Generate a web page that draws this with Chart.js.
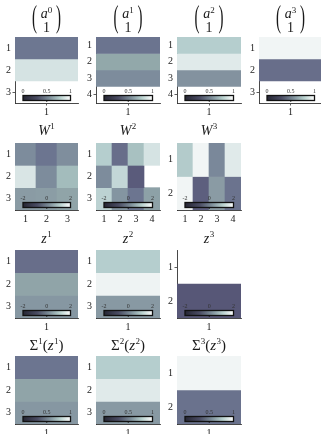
<!DOCTYPE html>
<html><head><meta charset="utf-8">
<script src="https://cdn.jsdelivr.net/npm/chart.js@4.4.1/dist/chart.umd.min.js"></script>
<style>
html,body{margin:0;padding:0;background:#fff;overflow:hidden;width:321px;height:434px;position:relative}
.p{position:absolute}
</style></head><body>
<script>
// ---- data ----
const a0 = [0.37, 0.88, 1];
const a1 = [0.35, 0.62, 0.48, 1];
const a2 = [0.79, 0.91, 0.51, 1];
const a3 = [0.96, 0.30, 1];
const W1 = [[-0.08, -0.56, -0.04], [1.56, -0.08, 0.88], [0.20, 0.24, 0.40]];
const W2 = [[1.16, -0.80, 0.96, 1.52], [-0.08, 1.32, -1.52, 2.30], [1.24, 0.08, -0.56, 0.32]];
const W3 = [[1.12, 1.84, -0.16, 1.64], [1.84, -1.36, 0.20, -0.64]];
const z1 = [-0.80, 0.40, 0.12];
const z2 = [1.16, 1.80, 0.16];
const z3 = [2.60, -1.64];
const S1 = [0.36, 0.60, 0.53];
const S2 = [0.79, 0.91, 0.54];
const S3 = [0.96, 0.33];
const rangeA = [0, 1];
const rangeW = [-2, 2];
const cbTicksA = ['0', '0.5', '1'];
const cbTicksW = ['-2', '0', '2'];

// ---- colour map ----
const STOPS = [[0,'#4c4c6a'],[0.12,'#5a5b7b'],[0.30,'#686e8a'],[0.36,'#6c7590'],[0.48,'#7d8c9c'],
  [0.55,'#8a9ba4'],[0.62,'#92a8aa'],[0.72,'#a3bcbc'],[0.80,'#b8d0d0'],[0.88,'#d5e3e3'],[0.95,'#eef3f3'],[1,'#ffffff']];
function hex(h){return [1,3,5].map(i=>parseInt(h.substr(i,2),16));}
function cmap(t){
  if (t >= 0.999) return 'rgba(255,255,255,0)';
  t = Math.max(0, t);
  for (let i=1;i<STOPS.length;i++){
    if (t <= STOPS[i][0]){
      const [t0,c0]=STOPS[i-1],[t1,c1]=STOPS[i];
      const f=(t-t0)/(t1-t0), A=hex(c0), B=hex(c1);
      const c=A.map((v,k)=>Math.round(v+(B[k]-v)*f));
      return `rgb(${c[0]},${c[1]},${c[2]})`;
    }
  }
  return '#fff';
}
const col = v => v.map(x => [x]);

// ---- layout ----
const ROWS = [{top:37,bottom:103,ct:0},{top:143,bottom:210,ct:112},{top:250,bottom:318,ct:228},{top:356,bottom:424,ct:330}];
const COLS = [{l:15,r:78},{l:96,r:160},{l:177,r:241},{l:259,r:322}];

const panels = [
  {m:col(a0), rg:rangeA, cb:cbTicksA, t:{type:'vec',k:'0'}, row:0, c:0},
  {m:col(a1), rg:rangeA, cb:cbTicksA, t:{type:'vec',k:'1'}, row:0, c:1},
  {m:col(a2), rg:rangeA, cb:cbTicksA, t:{type:'vec',k:'2'}, row:0, c:2},
  {m:col(a3), rg:rangeA, cb:cbTicksA, t:{type:'vec',k:'3'}, row:0, c:3},
  {m:W1, rg:rangeW, cb:cbTicksW, t:{type:'sup',b:'W',k:'1'}, row:1, c:0},
  {m:W2, rg:rangeW, cb:cbTicksW, t:{type:'sup',b:'W',k:'2'}, row:1, c:1},
  {m:W3, rg:rangeW, cb:cbTicksW, t:{type:'sup',b:'W',k:'3'}, row:1, c:2},
  {m:col(z1), rg:rangeW, cb:cbTicksW, t:{type:'z',k:'1'}, row:2, c:0},
  {m:col(z2), rg:rangeW, cb:cbTicksW, t:{type:'z',k:'2'}, row:2, c:1},
  {m:col(z3), rg:rangeW, cb:cbTicksW, t:{type:'z',k:'3'}, row:2, c:2},
  {m:col(S1), rg:rangeA, cb:cbTicksA, t:{type:'sig',k:'1'}, row:3, c:0},
  {m:col(S2), rg:rangeA, cb:cbTicksA, t:{type:'sig',k:'2'}, row:3, c:1},
  {m:col(S3), rg:rangeA, cb:cbTicksA, t:{type:'sig',k:'3'}, row:3, c:2},
];

const SERIF = '"Liberation Serif", "DejaVu Serif", serif';
Chart.defaults.font.family = SERIF;
Chart.defaults.font.size = 10;
Chart.defaults.color = '#222';

function drawSegs(ctx, segs, cx, base){
  let w = 0;
  segs.forEach(s => { ctx.font = (s.it?'italic ':'') + s.sz + 'px ' + SERIF; s.w = ctx.measureText(s.tx).width; w += s.w + (s.gap||0); });
  let x = cx - w/2;
  ctx.textAlign = 'left'; ctx.textBaseline = 'alphabetic'; ctx.fillStyle = '#1a1a1a';
  segs.forEach(s => { ctx.font = (s.it?'italic ':'') + s.sz + 'px ' + SERIF; ctx.fillText(s.tx, x, base - (s.dy||0)); x += s.w + (s.gap||0); });
}

const titlePlugin = {
  id:'mathTitle',
  afterDraw(chart){
    const t = chart.options.plugins.mathTitle; if(!t) return;
    const ctx = chart.ctx, ca = chart.chartArea, cx = (ca.left + ca.right)/2;
    ctx.save();
    if (t.type === 'vec'){
      const top = ca.top - 34, bot = ca.top - 2, mid = (top+bot)/2;
      ctx.fillStyle = '#1a1a1a'; ctx.textBaseline = 'middle';
      ctx.font = '15px ' + SERIF;
      const sy = 2.05;
      ctx.save(); ctx.translate(0, mid); ctx.scale(1, sy);
      ctx.textAlign = 'left'; ctx.fillText('(', cx - 14.5, 0);
      ctx.textAlign = 'right'; ctx.fillText(')', cx + 14.5, 0);
      ctx.restore();
      drawSegs(ctx, [{tx:'a',it:true,sz:14},{tx:t.k,sz:9,dy:5}], cx, top + 15);
      drawSegs(ctx, [{tx:'1',sz:14}], cx, top + 29);
    } else if (t.type === 'sup'){
      drawSegs(ctx, [{tx:t.b,it:true,sz:14,gap:0.5},{tx:t.k,sz:9,dy:6}], cx, ca.top - 8);
    } else if (t.type === 'z'){
      drawSegs(ctx, [{tx:'z',it:true,sz:14,gap:0.5},{tx:t.k,sz:9,dy:6}], cx, ca.top - 7);
    } else {
      drawSegs(ctx, [{tx:'Σ',sz:15},{tx:t.k,sz:9,dy:6},{tx:'(',sz:15},{tx:'z',it:true,sz:15,gap:0.5},{tx:t.k,sz:9,dy:6},{tx:')',sz:15}], cx, ca.top - 6);
    }
    ctx.restore();
  }
};

const cbPlugin = {
  id:'cbar',
  afterDatasetsDraw(chart){
    const o = chart.options.plugins.cbar; if(!o) return;
    const ctx = chart.ctx, ca = chart.chartArea;
    const x0 = ca.left + 8, x1 = ca.right - 7.5, y0 = ca.bottom - 7.5, h = 5;
    ctx.save();
    const g = ctx.createLinearGradient(x0, 0, x1, 0);
    [[0,'#262633'],[0.3,'#4a4c63'],[0.55,'#7d8e99'],[0.78,'#b7d0cd'],[1,'#ffffff']].forEach(s=>g.addColorStop(s[0],s[1]));
    ctx.fillStyle = g; ctx.fillRect(x0, y0, x1-x0, h);
    ctx.lineWidth = 1.3; ctx.strokeStyle = '#111'; ctx.strokeRect(x0, y0, x1-x0, h);
    ctx.beginPath(); ctx.lineWidth = 0.8; const xm=(x0+x1)/2; ctx.moveTo(xm, y0+h); ctx.lineTo(xm, y0+h+1.5); ctx.stroke();
    ctx.font = '6px ' + SERIF; ctx.fillStyle = '#333'; ctx.textAlign = 'center'; ctx.textBaseline = 'alphabetic';
    [x0, xm, x1].forEach((x,i)=>ctx.fillText(o.ticks[i], x, y0 - 2.5));
    ctx.restore();
  }
};

panels.forEach(p => {
  const R = ROWS[p.row], C = COLS[p.c];
  const nRows = p.m.length, nCols = p.m[0].length;
  const W = (C.r - C.l) + 15 + 4, H = R.bottom - R.ct + 16;
  const div = document.createElement('div'); div.className = 'p';
  div.style.left = (C.l - 15) + 'px'; div.style.top = R.ct + 'px';
  div.style.width = W + 'px'; div.style.height = H + 'px';
  const cv = document.createElement('canvas'); cv.width = W; cv.height = H;
  cv.style.width = W + 'px'; cv.style.height = H + 'px';
  div.appendChild(cv); document.body.appendChild(div);
  const [lo, hi] = p.rg;
  const isClear = v => v !== undefined && (v - lo) / (hi - lo) >= 0.999;
  const xLabels = Array.from({length:nCols}, (_, i) => String(i+1));
  const yTicks = Array.from({length:nRows}, (_, i) => i+1);
  const datasets = p.m.map((rowVals, r) => ({
    data: rowVals.map(() => [r + 0.5, r + 1.5]),
    backgroundColor: rowVals.map(v => cmap((v - lo) / (hi - lo))),
    borderWidth: 0, barPercentage: 1, categoryPercentage: 1, grouped: false
  }));
  new Chart(cv, {
    type: 'bar',
    data: { labels: xLabels, datasets },
    options: {
      responsive: false, animation: false, events: [],
      layout: { padding: { left: 0, right: 4, top: R.top - R.ct, bottom: 0 } },
      plugins: { legend: {display:false}, tooltip: {enabled:false}, title:{display:false},
        mathTitle: p.t, cbar: { ticks: p.cb } },
      scales: {
        x: { type:'category', offset:true,
          grid: { display:true, drawOnChartArea:false, tickLength:2.5, lineWidth:0.8, offset:false,
            color: c => isClear(p.m[nRows-1][c.index]) ? '#333' : 'rgba(0,0,0,0)' },
          border: { display:true, color:'#333', width:0.9 },
          ticks: { padding:1, font:{size:10}, color:'#222', maxRotation:0 },
          afterFit: s => { s.height = 16; } },
        y: { type:'linear', reverse:true, min:0.5, max:nRows + 0.5,
          grid: { display:true, drawOnChartArea:false, tickLength:2.5, lineWidth:0.8,
            color: c => (c.tick && isClear((p.m[c.tick.value-1]||[])[0])) ? '#333' : 'rgba(0,0,0,0)' },
          border: { display:true, color:'#333', width:0.9 },
          ticks: { padding:1.5, font:{size:10}, color:'#222' },
          afterBuildTicks: s => { s.ticks = yTicks.map(v => ({value:v})); },
          afterFit: s => { s.width = 15; } }
      }
    },
    plugins: [titlePlugin, cbPlugin]
  });
});
</script>
</body></html>
